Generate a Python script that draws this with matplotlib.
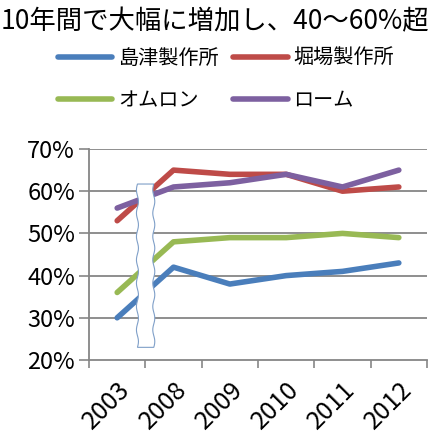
import numpy as np
import matplotlib
matplotlib.use("Agg")
import matplotlib.pyplot as plt
from matplotlib.patches import Polygon

plt.rcParams['font.family'] = ['Noto Sans CJK JP', 'DejaVu Sans']

title = "10年間で大幅に増加し、40～60%超"
years = ["2003", "2008", "2009", "2010", "2011", "2012"]
shimadzu = [30, 42, 38, 40, 41, 43]
horiba = [53, 65, 64, 64, 60, 61]
omron = [36, 48, 49, 49, 50, 49]
rohm = [56, 61, 62, 64, 61, 65]
series_names = ["島津製作所", "堀場製作所", "オムロン", "ローム"]
colors = ["#4A7EBB", "#BE4B48", "#98B954", "#7D60A0"]
yticks = [20, 30, 40, 50, 60, 70]

fig = plt.figure(figsize=(4.30, 4.41), dpi=100)
ax = fig.add_axes([89/430, 1-360/441, (427-89)/430, (360-149)/441])

x = np.arange(len(years)) + 0.5
handles = []
for vals, c, name in zip([shimadzu, horiba, omron, rohm], colors, series_names):
    h, = ax.plot(x, vals, color=c, lw=4, solid_capstyle='round', solid_joinstyle='round', label=name, zorder=3)
    handles.append(h)

ax.set_xlim(0, len(years))
ax.set_ylim(20, 70)
ax.set_yticks(yticks)
ax.set_yticklabels([f"{v}%" for v in yticks], fontsize=17)
ax.set_xticks(np.arange(len(years)+1))
ax.set_xticklabels([])
ax.set_xticks(x, minor=True)
ax.set_xticklabels(years, minor=True, rotation=45, ha='right', va='top', rotation_mode='anchor', fontsize=18)
ax.tick_params(axis='x', which='minor', length=0, pad=12)
ax.tick_params(axis='x', which='major', length=6, width=1.2, color='#868686', direction='out')
ax.tick_params(axis='y', length=7, width=1.2, color='#868686', direction='out', pad=3)
for yv in yticks[1:]:
    ax.axhline(yv, color='#868686', lw=1.3, zorder=1)
for s in ['top', 'right']:
    ax.spines[s].set_visible(False)
for s in ['left', 'bottom']:
    ax.spines[s].set_color('#868686')
    ax.spines[s].set_linewidth(1.3)

# break marker (wavy white strip)
t = np.linspace(0, 1, 80)
ytop, ybot = 61.7, 23.0
yy = ybot + (ytop - ybot) * t
wav = 0.018 * np.sin(t * 2 * np.pi * 7)
left = np.column_stack([0.86 + wav, yy])
right = np.column_stack([1.15 + wav[::-1], yy[::-1]])
poly = Polygon(np.vstack([left, right]), closed=True, facecolor='white', edgecolor='#7F9FC8', lw=0.8, zorder=5)
ax.add_patch(poly)

fig.text(0.5, 1-22/441, title, ha='center', va='center', fontsize=19)
order = [0, 2, 1, 3]
fig.legend(handles=[handles[i] for i in order], loc='upper left', bbox_to_anchor=(58/430, 1-48/441), ncol=2,
           frameon=False, fontsize=14.5, handlelength=2.7, handletextpad=0.3,
           columnspacing=0.7, labelspacing=1.05, borderpad=0, borderaxespad=0)

fig.savefig("out.png", dpi=100)
